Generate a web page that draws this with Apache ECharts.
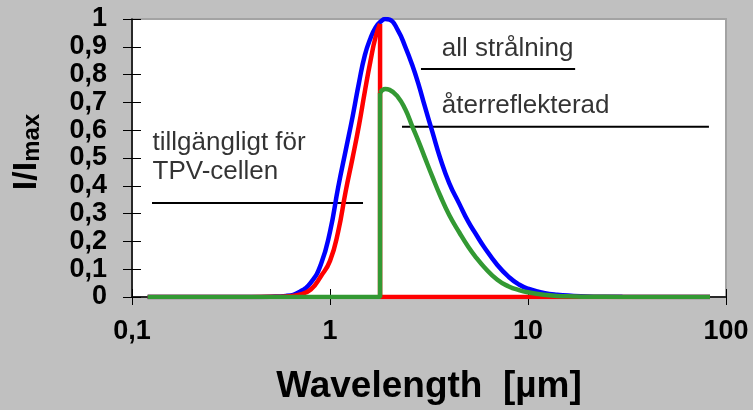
<!DOCTYPE html>
<html>
<head>
<meta charset="utf-8">
<script src="https://cdn.jsdelivr.net/npm/echarts@6/dist/echarts.min.js"></script>
<style>
  html, body { margin: 0; padding: 0; background: #c0c0c0; }
  #chart { width: 753px; height: 410px; }
</style>
</head>
<body>
<div id="chart"></div>
<script>
// all strålning (blue)
const blueWl  = [0.12, 0.4, 0.5, 0.6, 0.7, 0.8, 0.9, 1.0, 1.1, 1.2, 1.3, 1.4, 1.5, 1.6, 1.7, 1.8, 1.9, 2.0, 2.2, 2.4, 2.6, 2.8, 3.0, 3.3, 3.6, 4.0, 4.5, 5.0, 5.5, 6.0, 7.0, 8.0, 9.0, 10, 12, 14, 17, 20, 25, 30, 83];
const blueVal = [0, 0, 0.001, 0.004, 0.018, 0.052, 0.118, 0.235, 0.395, 0.527, 0.648, 0.77, 0.87, 0.93, 0.97, 0.99, 1.0, 0.998, 0.96, 0.9, 0.835, 0.765, 0.69, 0.59, 0.5, 0.41, 0.335, 0.27, 0.222, 0.18, 0.115, 0.072, 0.045, 0.03, 0.015, 0.008, 0.004, 0.002, 0.001, 0.0005, 0];

// tillgängligt för TPV-cellen (red), cut at the band gap
const redWl  = [0.12, 0.4, 0.5, 0.6, 0.7, 0.8, 0.9, 1.0, 1.1, 1.2, 1.3, 1.4, 1.5, 1.6, 1.7, 1.79];
const redVal = [0, 0, 0.0005, 0.002, 0.008, 0.027, 0.075, 0.13, 0.236, 0.38, 0.5, 0.617, 0.74, 0.848, 0.936, 0.982];

// återreflekterad (green), starts at the band gap
const greenWl  = [1.79, 1.9, 2.0, 2.2, 2.4, 2.6, 2.8, 3.0, 3.3, 3.6, 4.0, 4.5, 5.0, 5.5, 6.0, 7.0, 8.0, 9.0, 10, 12, 14, 17, 20, 30, 83];
const greenVal = [0.735, 0.748, 0.745, 0.72, 0.675, 0.615, 0.56, 0.505, 0.43, 0.365, 0.295, 0.232, 0.18, 0.14, 0.108, 0.062, 0.038, 0.025, 0.017, 0.008, 0.004, 0.002, 0.001, 0.0003, 0];

const cutoff = 1.79;
const wlStart = 0.12;
const wlEnd = 83;

const xTicks = [0.1, 1, 10, 100];
const xTickLabels = ['0,1', '1', '10', '100'];

// annotations: text and leader lines, in data coordinates
const noteText = ['all strålning', 'återreflekterad', 'tillgängligt för', 'TPV-cellen'];
const noteX    = [3.65, 3.65, 0.1262, 0.1262];
const noteY    = [0.893, 0.688, 0.554, 0.449];
const leaderX1 = [2.88, 2.31, 0.1262];
const leaderX2 = [17.3, 82.0, 1.468];
const leaderY  = [0.82, 0.612, 0.338];

const font = 'Liberation Sans, Arial, sans-serif';
const zip = (a, b) => a.map((v, i) => [v, b[i]]);

let myChart = echarts.init(document.getElementById('chart'));

let leaderSeries = leaderY.map((y, i) => ({
    type: 'line',
    silent: true,
    symbol: 'none',
    z: 1,
    lineStyle: { color: '#000', width: 2 },
    data: [[leaderX1[i], y], [leaderX2[i], y]]
}));

let option = {
    backgroundColor: '#c0c0c0',
    animation: false,
    grid: {
        left: 132, right: 27, top: 19, bottom: 113,
        outerBoundsMode: 'none',
        show: true,
        backgroundColor: '#fff',
        borderColor: '#a3a3a3',
        borderWidth: 2
    },
    xAxis: [
        {
            type: 'log', logBase: 10, min: 0.1, max: 100,
            name: 'Wavelength  [µm]',
            nameLocation: 'middle',
            nameGap: 71,
            nameTextStyle: { fontSize: 37, fontWeight: 'bold', color: '#000', fontFamily: font },
            axisLine: { lineStyle: { color: '#000', width: 1.5 } },
            axisTick: { length: 8, lineStyle: { color: '#000' } },
            minorTick: { show: false },
            splitLine: { show: false },
            axisLabel: {
                margin: 21,
                fontSize: 27, fontWeight: 'bold', color: '#000', fontFamily: font,
                formatter: v => {
                    let i = xTicks.findIndex(t => Math.abs(Math.log10(t) - Math.log10(v)) < 1e-6);
                    return i >= 0 ? xTickLabels[i] : '';
                }
            }
        },
        {   // inner half of the crossing ticks
            type: 'log', logBase: 10, min: 0.1, max: 100, position: 'bottom',
            axisLine: { show: false },
            axisTick: { inside: true, length: 8, lineStyle: { color: '#000' } },
            axisLabel: { show: false },
            splitLine: { show: false }
        }
    ],
    yAxis: [
        {
            type: 'value', min: 0, max: 1, interval: 0.1,
            name: '{a|I/I}{b|max}',
            nameLocation: 'middle',
            nameRotate: 90,
            nameGap: 88,
            nameTextStyle: {
                padding: [0, 0, 0, 12],
                rich: {
                    a: { fontSize: 34, fontWeight: 'bold', color: '#000', fontFamily: font, verticalAlign: 'top', lineHeight: 34 },
                    b: { fontSize: 24, fontWeight: 'bold', color: '#000', fontFamily: font, verticalAlign: 'bottom', lineHeight: 24, padding: [20, 0, 0, 0] }
                }
            },
            axisLine: { show: true, lineStyle: { color: '#000', width: 1.5 } },
            axisTick: { show: true, length: 9, lineStyle: { color: '#000' } },
            splitLine: { show: false },
            axisLabel: {
                margin: 25,
                fontSize: 27, fontWeight: 'bold', color: '#000', fontFamily: font,
                formatter: v => (v === 0 || v === 1) ? String(v) : v.toFixed(1).replace('.', ',')
            }
        },
        {
            type: 'value', min: 0, max: 1, interval: 0.1, position: 'left',
            axisLine: { show: false },
            axisTick: { show: true, inside: true, length: 9, lineStyle: { color: '#000' } },
            axisLabel: { show: false },
            splitLine: { show: false }
        }
    ],
    series: [
        ...leaderSeries,
        {
            name: 'all strålning', type: 'line', smooth: true, symbol: 'none', z: 2,
            lineStyle: { color: '#0000ff', width: 4.5 },
            data: zip(blueWl, blueVal)
        },
        {
            name: 'tillgängligt', type: 'line', smooth: true, symbol: 'none', z: 3,
            lineStyle: { color: '#ff0000', width: 4.5 },
            data: zip(redWl, redVal)
        },
        {   // drop at the band gap and zero beyond
            name: 'tillgängligt', type: 'line', symbol: 'none', z: 3,
            lineStyle: { color: '#ff0000', width: 4.5 },
            data: [[cutoff, redVal[redVal.length - 1]], [cutoff, 0], [wlEnd, 0]]
        },
        {   // zero below the band gap and jump
            name: 'återreflekterad', type: 'line', symbol: 'none', z: 4,
            lineStyle: { color: '#339933', width: 4.5 },
            data: [[wlStart, 0], [cutoff, 0], [cutoff, greenVal[0]]]
        },
        {
            name: 'återreflekterad', type: 'line', smooth: true, symbol: 'none', z: 4,
            lineStyle: { color: '#339933', width: 4.5 },
            data: zip(greenWl, greenVal)
        },
        {
            type: 'scatter', silent: true, symbolSize: 1, z: 5,
            itemStyle: { color: 'rgba(0,0,0,0)' },
            label: {
                show: true, position: 'right', distance: 0,
                fontSize: 26, color: '#000', fontFamily: font,
                formatter: p => p.data[2]
            },
            data: noteText.map((t, i) => [noteX[i], noteY[i], t])
        }
    ]
};
myChart.setOption(option);
</script>
</body>
</html>
